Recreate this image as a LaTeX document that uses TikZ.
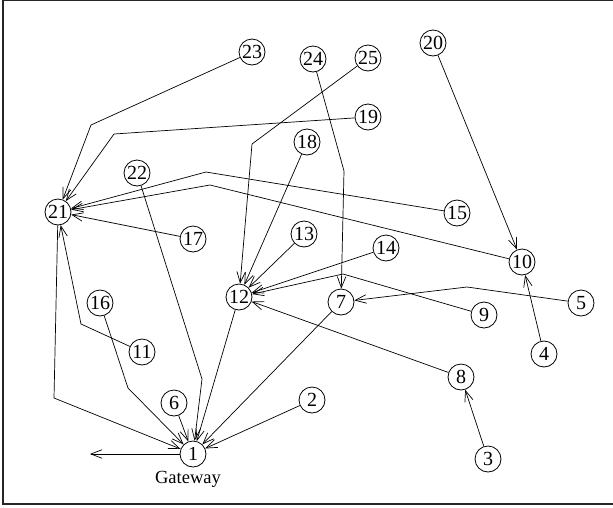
\documentclass[tikz,border=0pt]{standalone}
\usepackage{fontspec}
\setmainfont{Liberation Serif}
\usetikzlibrary{arrows.meta}

\begin{document}
\begin{tikzpicture}[
    x=1pt,y=-1pt,
    vertex/.style={circle,draw,line width=0.8pt,inner sep=0pt,minimum size=26pt,font=\fontsize{20}{22}\selectfont},
    link/.style={-{Straight Barb[length=11pt,width=8.5pt]},line width=0.7pt},
    frame/.style={line width=1.4pt,black!85}
]
\useasboundingbox (0,0) rectangle (613,507);
\draw[frame] (614,0.7) -- (3,0.7) -- (3,504) -- (614,504);

%%% top row
\node[vertex] (n23) at (252,52) {23};
\node[vertex] (n24) at (313,59) {24};
\node[vertex] (n25) at (368,58) {25};
\node[vertex] (n20) at (433,43) {20};
\node[vertex] (n19) at (368,117) {19};
\node[vertex] (n18) at (307,142) {18};
\node[vertex] (n22) at (137,173) {22};
% middle
\node[vertex] (n21) at (58,212) {21};
\node[vertex] (n17) at (193,239) {17};
\node[vertex] (n15) at (457,213) {15};
\node[vertex] (n13) at (304,234) {13};
\node[vertex] (n14) at (386,248) {14};
\node[vertex] (n10) at (522,262) {10};
\node[vertex] (n12) at (239,297) {12};
\node[vertex] (n7)  at (341,302) {7};
\node[vertex] (n5)  at (581,303) {5};
\node[vertex] (n9)  at (484,315) {9};
\node[vertex] (n16) at (100,303) {16};
\node[vertex] (n11) at (142,352) {11};
% bottom
\node[vertex] (n4)  at (544,354) {4};
\node[vertex] (n8)  at (461,377) {8};
\node[vertex] (n6)  at (174,403) {6};
\node[vertex] (n2)  at (312,400) {2};
\node[vertex] (n1)  at (193,454) {1};
\node[vertex] (n3)  at (488,459) {3};
\node[font=\fontsize{18.5}{20}\selectfont] (gw) at (188,479) {Gateway};
\coordinate (out) at (90,454);

%%% links into 21
\draw[link] (n23) -- (91,125) -- (n21);
\draw[link] (n19) -- (114,134) -- (n21);
\draw[link] (n15) -- (206,172) -- (n21);
\draw[link] (n10) -- (210,185) -- (n21);
\draw[link] (n17) -- (n21);
\draw[link] (n11) -- (81,324) -- (n21);

%%% links into 1 (gateway)
\draw[link] (n21) -- (54,398) -- (n1);
\draw[link] (n22) -- (202,379) -- (n1);
\draw[link] (n16) -- (128,388) -- (n1);
\draw[link] (n6) -- (n1);
\draw[link] (n12) -- (n1);
\draw[link] (n7) -- (n1);
\draw[link] (n2) -- (n1);
\draw[link] (n1) -- (out);

%%% links into 12
\draw[link] (n25) -- (252,144) -- (n12);
\draw[link] (n18) -- (n12);
\draw[link] (n13) -- (n12);
\draw[link] (n14) -- (n12);
\draw[link] (n9) -- (343,274) -- (n12);
\draw[link] (n8) -- (n12);

%%% remaining links
\draw[link] (n24) -- (344,171) -- (n7);
\draw[link] (n5) -- (467,287) -- (n7);
\draw[link] (n20) -- (n10);
\draw[link] (n4) -- (n10);
\draw[link] (n3) -- (n8);
\end{tikzpicture}
\end{document}
